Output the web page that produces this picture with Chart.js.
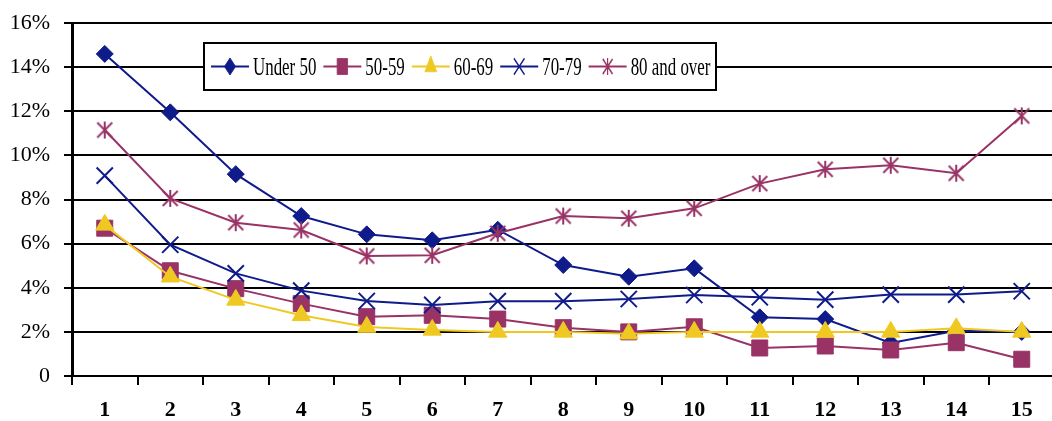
<!DOCTYPE html>
<html>
<head>
<meta charset="utf-8">
<style>
  html, body { margin: 0; padding: 0; background: #ffffff; overflow: hidden; }
  #wrap { position: relative; width: 1068px; height: 421px; }
</style>
<script src="https://cdn.jsdelivr.net/npm/chart.js@4.4.1/dist/chart.umd.min.js"></script>
</head>
<body>
<div id="wrap"><canvas id="chart" width="1068" height="421"></canvas></div>
<script>
// Categories along the horizontal axis
const categories = ['1', '2', '3', '4', '5', '6', '7', '8', '9', '10', '11', '12', '13', '14', '15'];

// Shares (percent) per age group
const under50   = [14.6, 11.95, 9.15, 7.25, 6.42, 6.15, 6.63, 5.03, 4.5, 4.88, 2.66, 2.58, 1.5, 2.05, 2.0];
const age50to59 = [6.7, 4.77, 3.96, 3.28, 2.69, 2.75, 2.58, 2.19, 2.0, 2.23, 1.27, 1.36, 1.18, 1.51, 0.76];
const age60to69 = [6.85, 4.5, 3.45, 2.75, 2.22, 2.09, 2.0, 2.0, 1.92, 2.0, 2.0, 2.0, 2.0, 2.16, 2.0];
const age70to79 = [9.08, 5.95, 4.65, 3.87, 3.4, 3.22, 3.39, 3.39, 3.49, 3.67, 3.57, 3.46, 3.69, 3.69, 3.84];
const age80plus = [11.15, 8.05, 6.95, 6.62, 5.44, 5.47, 6.47, 7.25, 7.15, 7.6, 8.72, 9.37, 9.55, 9.19, 11.79];

const seriesNames = ['Under 50', '50-59', '60-69', '70-79', '80 and over'];

// Vertical axis tick labels, from 0 to 16 in steps of 2
const yTickLabels = ['0', '2%', '4%', '6%', '8%', '10%', '12%', '14%', '16%'];

const NAVY = '#0f1b8a';
const PLUM = '#993366';
const GOLD = '#efc922';

// Asterisk marker: a vertical stroke crossed by an X
function makeAsterisk(color) {
  const c = document.createElement('canvas');
  c.width = 18; c.height = 19;
  const g = c.getContext('2d');
  g.strokeStyle = color;
  g.lineWidth = 2;
  g.lineCap = 'butt';
  g.beginPath();
  g.moveTo(9, 1); g.lineTo(9, 18);
  g.moveTo(1.5, 2); g.lineTo(16.5, 17);
  g.moveTo(16.5, 2); g.lineTo(1.5, 17);
  g.stroke();
  return c;
}
const asterisk = makeAsterisk(PLUM);

const datasets = [
  { label: seriesNames[0], data: under50, borderColor: NAVY, backgroundColor: NAVY,
    pointStyle: 'rectRot', pointRadius: 8.5, pointBorderWidth: 1, order: 5 },
  { label: seriesNames[1], data: age50to59, borderColor: PLUM, backgroundColor: PLUM,
    pointStyle: 'rect', pointRadius: 11.3, pointBorderWidth: 1, order: 4 },
  { label: seriesNames[2], data: age60to69, borderColor: GOLD, backgroundColor: GOLD,
    pointStyle: 'triangle', pointRadius: 10.5, pointBorderWidth: 1, order: 3 },
  { label: seriesNames[3], data: age70to79, borderColor: NAVY, backgroundColor: NAVY,
    pointStyle: 'crossRot', pointRadius: 11.5, pointBorderWidth: 2, order: 2 },
  { label: seriesNames[4], data: age80plus, borderColor: PLUM, backgroundColor: PLUM,
    pointStyle: asterisk, pointRadius: 9, pointBorderWidth: 1, order: 1 }
].map(d => Object.assign({
  borderWidth: 2,
  tension: 0,
  fill: false,
  pointHoverRadius: d.pointRadius,
  pointBackgroundColor: d.backgroundColor,
  pointBorderColor: d.borderColor
}, d));

// Draw a (horizontally narrowed) marker for the boxed legend
function drawMarker(ctx, ds, x, y, sx) {
  ctx.save();
  ctx.translate(x, y);
  ctx.scale(sx, 1);
  ctx.fillStyle = ds.backgroundColor;
  ctx.strokeStyle = ds.borderColor;
  ctx.lineWidth = ds.pointBorderWidth;
  if (Chart.helpers && Chart.helpers.drawPoint) {
    Chart.helpers.drawPoint(ctx, {
      pointStyle: ds.pointStyle, radius: ds.pointRadius,
      rotation: 0, borderWidth: ds.pointBorderWidth
    }, 0, 0);
  } else if (ds.pointStyle instanceof HTMLCanvasElement) {
    ctx.drawImage(ds.pointStyle, -ds.pointStyle.width / 2, -ds.pointStyle.height / 2);
  }
  ctx.restore();
}

// Boxed legend across the upper part of the plot
const boxLegend = {
  id: 'boxLegend',
  afterDraw(chart) {
    const ctx = chart.ctx;
    const box = { x: 204, y: 43, w: 512, h: 47 };
    ctx.save();
    ctx.fillStyle = '#ffffff';
    ctx.fillRect(box.x, box.y, box.w, box.h);
    ctx.strokeStyle = '#000000';
    ctx.lineWidth = 2;
    ctx.strokeRect(box.x, box.y, box.w, box.h);

    const cy = box.y + box.h / 2;
    const squeeze = 0.65;
    ctx.font = '26px "Liberation Serif", "Times New Roman", serif';
    ctx.textBaseline = 'alphabetic';
    ctx.fillStyle = '#000000';
    let x = 211;
    chart.data.datasets.forEach(ds => {
      ctx.strokeStyle = ds.borderColor;
      ctx.lineWidth = 2;
      ctx.beginPath();
      ctx.moveTo(x, cy);
      ctx.lineTo(x + 38, cy);
      ctx.stroke();
      drawMarker(ctx, ds, x + 19, cy, squeeze);
      x += 42;
      const w = ctx.measureText(ds.label).width * squeeze;
      ctx.save();
      ctx.translate(x, cy + 8.5);
      ctx.scale(squeeze, 1);
      ctx.fillStyle = '#000000';
      ctx.fillText(ds.label, 0, 0);
      ctx.restore();
      x += w + 7;
    });
    ctx.restore();
  }
};

new Chart(document.getElementById('chart'), {
  type: 'line',
  data: { labels: categories, datasets: datasets },
  plugins: [boxLegend],
  options: {
    responsive: false,
    animation: false,
    events: [],
    layout: { padding: { top: 23, right: 0, left: 0, bottom: 0 } },
    plugins: { legend: { display: false }, tooltip: { enabled: false } },
    scales: {
      x: {
        type: 'category',
        offset: true,
        afterFit(scale) { scale.height = 45; },
        grid: {
          display: true, drawOnChartArea: false, drawTicks: true,
          offset: true, tickLength: 9, color: '#000000', lineWidth: 2
        },
        border: { display: true, color: '#000000', width: 2 },
        ticks: {
          color: '#000000', padding: 12, maxRotation: 0, autoSkip: false,
          font: { family: '"Liberation Serif", "Times New Roman", serif', size: 22, weight: 'bold' }
        }
      },
      y: {
        min: 0, max: 16,
        afterFit(scale) {
          scale.width = 72;
          scale.paddingTop = 0;
          scale.paddingBottom = 0;
        },
        grid: {
          display: true, drawOnChartArea: true, drawTicks: true,
          tickLength: 8, color: '#000000', lineWidth: 2
        },
        border: { display: true, color: '#000000', width: 3 },
        ticks: {
          stepSize: 2, color: '#000000', padding: 14,
          font: { family: '"Liberation Serif", "Times New Roman", serif', size: 22 },
          callback: (v, i) => yTickLabels[i]
        }
      }
    }
  }
});
</script>
</body>
</html>
